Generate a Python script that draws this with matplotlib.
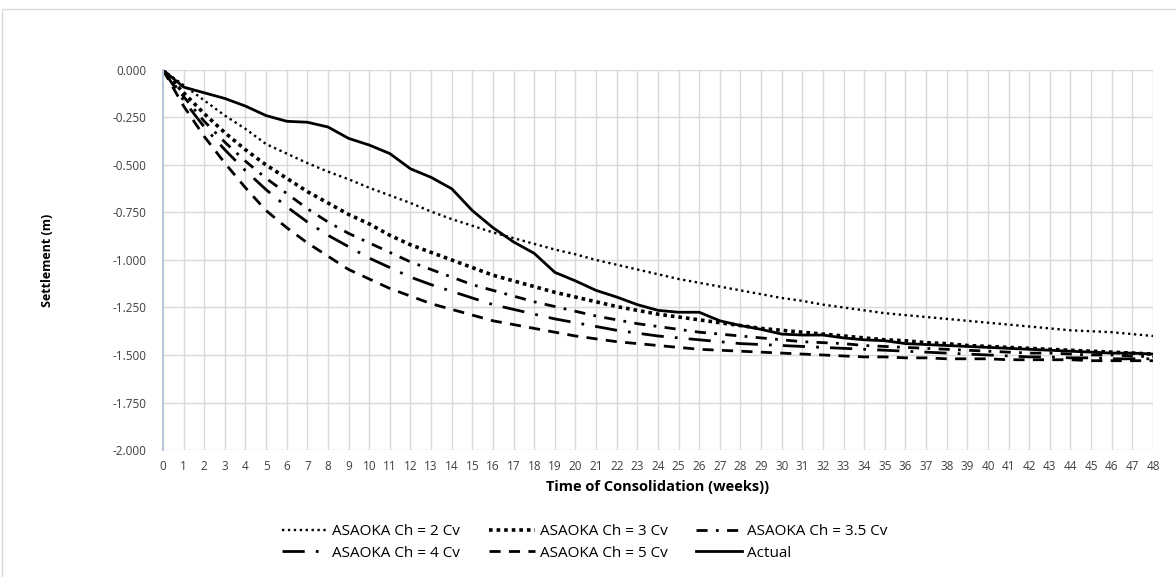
import numpy as np
import matplotlib
matplotlib.use("Agg")
import matplotlib.pyplot as plt
from matplotlib.patches import Rectangle

plt.rcParams['font.family'] = ['Open Sans', 'DejaVu Sans']

# weeks of consolidation
weeks = list(range(0, 49))

# predicted settlement (m) from Asaoka method for different Ch/Cv ratios
asaoka_2 = [0, -0.08, -0.16, -0.24, -0.31, -0.39, -0.44, -0.49, -0.535, -0.575, -0.62,
            -0.66, -0.70, -0.745, -0.785, -0.82, -0.855, -0.885, -0.915, -0.945, -0.97,
            -1.00, -1.025, -1.05, -1.075, -1.10, -1.12, -1.14, -1.16, -1.18, -1.20,
            -1.215, -1.235, -1.25, -1.265, -1.28, -1.29, -1.30, -1.31, -1.32, -1.33,
            -1.34, -1.35, -1.36, -1.37, -1.375, -1.38, -1.39, -1.40]
asaoka_3 = [0, -0.12, -0.23, -0.33, -0.42, -0.50, -0.57, -0.64, -0.70, -0.76, -0.81,
            -0.87, -0.92, -0.96, -1.00, -1.04, -1.08, -1.11, -1.14, -1.17, -1.195,
            -1.22, -1.245, -1.265, -1.285, -1.30, -1.315, -1.33, -1.345, -1.36, -1.37,
            -1.38, -1.39, -1.40, -1.41, -1.42, -1.425, -1.435, -1.44, -1.45, -1.455,
            -1.46, -1.465, -1.47, -1.475, -1.48, -1.485, -1.49, -1.495]
asaoka_35 = [0, -0.14, -0.27, -0.38, -0.48, -0.57, -0.65, -0.73, -0.80, -0.86, -0.91,
             -0.96, -1.01, -1.05, -1.09, -1.13, -1.16, -1.19, -1.22, -1.245, -1.27,
             -1.295, -1.315, -1.335, -1.35, -1.365, -1.38, -1.39, -1.40, -1.41, -1.42,
             -1.43, -1.435, -1.44, -1.45, -1.455, -1.46, -1.465, -1.47, -1.475, -1.48,
             -1.485, -1.49, -1.49, -1.495, -1.50, -1.50, -1.505, -1.51]
asaoka_4 = [0, -0.16, -0.30, -0.42, -0.53, -0.63, -0.72, -0.80, -0.87, -0.93, -0.99,
            -1.04, -1.09, -1.13, -1.165, -1.20, -1.235, -1.26, -1.285, -1.31, -1.33,
            -1.35, -1.37, -1.385, -1.40, -1.41, -1.42, -1.43, -1.44, -1.445, -1.45,
            -1.455, -1.46, -1.465, -1.47, -1.475, -1.48, -1.485, -1.49, -1.495, -1.50,
            -1.505, -1.51, -1.51, -1.515, -1.515, -1.52, -1.52, -1.52]
asaoka_5 = [0, -0.19, -0.35, -0.49, -0.62, -0.74, -0.83, -0.91, -0.98, -1.05, -1.10,
            -1.15, -1.19, -1.23, -1.26, -1.29, -1.32, -1.34, -1.36, -1.38, -1.40,
            -1.415, -1.43, -1.44, -1.45, -1.46, -1.47, -1.475, -1.48, -1.485, -1.49,
            -1.495, -1.50, -1.505, -1.51, -1.51, -1.515, -1.515, -1.52, -1.52, -1.52,
            -1.525, -1.525, -1.525, -1.525, -1.53, -1.53, -1.53, -1.53]
# measured settlement (m)
actual = [0, -0.09, -0.12, -0.15, -0.19, -0.24, -0.27, -0.275, -0.30, -0.36, -0.395,
          -0.44, -0.52, -0.565, -0.625, -0.74, -0.83, -0.905, -0.965, -1.065, -1.11,
          -1.16, -1.195, -1.235, -1.265, -1.275, -1.275, -1.32, -1.345, -1.365, -1.39,
          -1.395, -1.395, -1.41, -1.42, -1.425, -1.44, -1.445, -1.45, -1.455, -1.46,
          -1.465, -1.47, -1.475, -1.48, -1.485, -1.49, -1.49, -1.495]

yticks = [0, -0.25, -0.5, -0.75, -1.0, -1.25, -1.5, -1.75, -2.0]

fig = plt.figure(figsize=(11.76, 5.77), dpi=100)
ax = fig.add_axes([0.1386, 0.2201, 0.8418, 0.6586])

# outer chart frame
fig.patches.append(Rectangle((0.002, -0.01), 1.1, 0.995, transform=fig.transFigure,
                             fill=False, edgecolor='#d9d9d9', lw=1))

ax.plot(weeks, asaoka_2, color='black', lw=1.7, dashes=(1, 1.5), label='ASAOKA Ch = 2 Cv')
ax.plot(weeks, asaoka_3, color='black', lw=2.6, dashes=(1, 1.1), label='ASAOKA Ch = 3 Cv')
ax.plot(weeks, asaoka_35, color='black', lw=2.0, dashes=(4, 3, 1, 3), label='ASAOKA Ch = 3.5 Cv')
ax.plot(weeks, asaoka_4, color='black', lw=2.0, dashes=(8, 4, 1, 4), label='ASAOKA Ch = 4 Cv')
ax.plot(weeks, asaoka_5, color='black', lw=2.0, dashes=(4, 3), label='ASAOKA Ch = 5 Cv')
ax.plot(weeks, actual, color='black', lw=2.0, label='Actual')

ax.set_xlim(0, 48)
ax.set_ylim(-2.0, 0)
ax.set_xticks(weeks)
ax.set_xticklabels([str(w) for w in weeks])
ax.set_yticks(yticks)
ax.set_yticklabels(['{:.3f}'.format(v) for v in yticks])
ax.grid(True, color='#d9d9d9', lw=1)
ax.set_axisbelow(True)
ax.tick_params(length=0, labelsize=8.5, colors='#404040')
ax.tick_params(axis='y', pad=12)
ax.tick_params(axis='x', pad=7)

for side in ['top', 'right', 'bottom']:
    ax.spines[side].set_visible(False)
ax.spines['left'].set_color('#b9c9da')
ax.spines['left'].set_linewidth(1.5)

ax.set_ylabel('Settlement (m)', fontsize=9, fontweight='bold', labelpad=42)
ax.set_xlabel('Time of Consolidation (weeks))', fontsize=10.5, fontweight='bold', labelpad=5)

# legend filled row by row
handles, labels = ax.get_legend_handles_labels()
order = [0, 3, 1, 4, 2, 5]
fig.legend([handles[i] for i in order], [labels[i] for i in order],
           loc='center', bbox_to_anchor=(0.497, 0.06), ncol=3,
           frameon=False, fontsize=11, handlelength=3.0, handletextpad=0.3,
           columnspacing=1.9, labelspacing=0.45)

fig.savefig('out.png', dpi=100)
